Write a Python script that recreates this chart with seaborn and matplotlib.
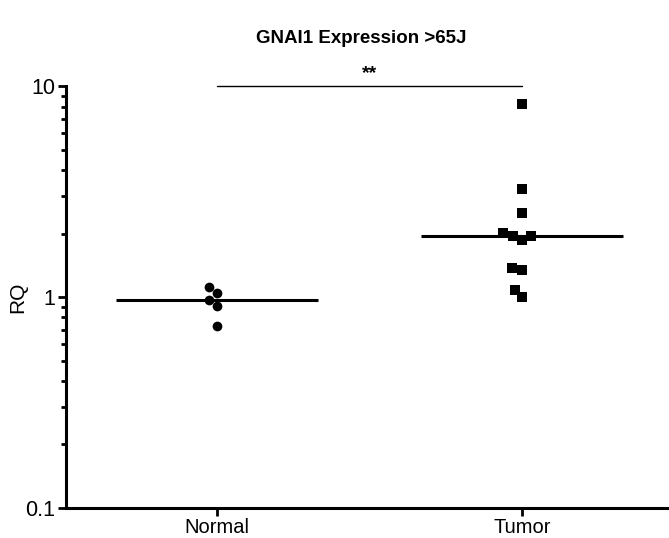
import matplotlib
matplotlib.use("Agg")
import matplotlib.pyplot as plt
import matplotlib.ticker as mticker
import numpy as np
import pandas as pd
import seaborn as sns

# Relative quantification (RQ) of GNAI1, patients > 65 years
groups = ["Normal", "Tumor"]
normal_rq = [1.04, 1.11, 0.97, 0.91, 0.73]
tumor_rq = [8.2, 3.24, 2.49, 1.94, 1.86, 1.94, 2.02, 1.37, 1.35, 1.08, 1.0]
y_ticks = [0.1, 1, 10]
y_tick_labels = ["0.1", "1", "10"]
title = "GNAI1 Expression >65J"
signif = "**"

df = pd.DataFrame({
    "group": ["Normal"] * len(normal_rq) + ["Tumor"] * len(tumor_rq),
    "RQ": normal_rq + tumor_rq,
})

sns.set_theme(style="ticks")
plt.rcParams["font.family"] = ["Liberation Sans", "DejaVu Sans"]

fig = plt.figure(figsize=(6.69, 5.38), dpi=100)
ax = fig.add_axes([0.0987, 0.0558, 0.9013, 0.7842])
ax.set_yscale("log")

# median bars
sns.boxplot(data=df, x="group", y="RQ", order=groups, ax=ax, width=0.66,
            showbox=False, showcaps=False, showfliers=False,
            whiskerprops={"visible": False},
            medianprops={"color": "black", "linewidth": 2.2})

# individual samples
sns.swarmplot(data=df[df.group == "Normal"], x="group", y="RQ", order=groups,
              ax=ax, color="black", marker="o", size=7, linewidth=0)
sns.swarmplot(data=df[df.group == "Tumor"], x="group", y="RQ", order=groups,
              ax=ax, color="black", marker="s", size=7, linewidth=0)

ax.set_ylim(0.1, 10)
ax.set_xlim(-0.495, 1.482)
ax.yaxis.set_major_locator(mticker.FixedLocator(y_ticks))
ax.yaxis.set_major_formatter(mticker.FixedFormatter(y_tick_labels))
ax.yaxis.set_minor_locator(mticker.LogLocator(base=10, subs=np.arange(2, 10)))
ax.yaxis.set_minor_formatter(mticker.NullFormatter())

for side in ["top", "right"]:
    ax.spines[side].set_visible(False)
for side in ["left", "bottom"]:
    ax.spines[side].set_linewidth(2.2)
    ax.spines[side].set_color("black")

ax.tick_params(axis="both", which="major", length=6, width=2, color="black",
               labelcolor="black", pad=2)
ax.tick_params(axis="y", which="major", labelsize=15.5)
ax.tick_params(axis="x", which="major", labelsize=14.5, pad=1)
ax.tick_params(axis="y", which="minor", length=3.5, width=2, color="black")
ax.set_xlabel("")
ax.set_ylabel("RQ", fontsize=15, color="black")
ax.yaxis.set_label_coords(-0.065, 0.5)

# significance bar
ax.plot([0, 1], [10.05, 10.05], color="black", linewidth=1, clip_on=False)
ax.text(0.5, 10.45, signif, ha="center", va="bottom", fontsize=14,
        fontweight="bold", color="black")

fig.text(0.54, 0.928, title, ha="center", va="center", fontsize=13.5,
         fontweight="bold", color="black")

fig.savefig("out.png", dpi=100)
